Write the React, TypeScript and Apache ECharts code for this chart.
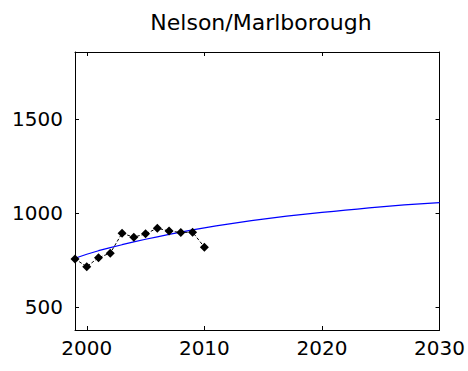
import React, { useEffect, useRef } from "react";
import * as echarts from "echarts";

const obsYears = [1999, 2000, 2001, 2002, 2003, 2004, 2005, 2006, 2007, 2008, 2009, 2010];
const obsValues = [756, 715, 763, 787, 893, 872, 890, 920, 905, 897, 899, 819];

const fitYears = [
  1999, 2000, 2001, 2002, 2003, 2004, 2005, 2006, 2007, 2008, 2009, 2010, 2011, 2012, 2013, 2014,
  2015, 2016, 2017, 2018, 2019, 2020, 2021, 2022, 2023, 2024, 2025, 2026, 2027, 2028, 2029, 2030,
];
const fitValues = [
  760, 781, 800, 816, 832, 847, 861, 874, 887, 899, 911, 922, 932, 942, 951, 960,
  968, 976, 984, 991, 998, 1004, 1010, 1016, 1022, 1028, 1034, 1039, 1044, 1049, 1053, 1057,
];

const xTicks = [2000, 2010, 2020, 2030];
const yTicks = [500, 1000, 1500];
const titleText = "Nelson/Marlborough";

export default function App() {
  const ref = useRef<HTMLDivElement>(null);
  useEffect(() => {
    if (!ref.current) return;
    const chart = echarts.init(ref.current, null, { renderer: "svg" });
    const font = "DejaVu Sans";
    const axisLine = { show: true, lineStyle: { color: "#000", width: 1 } };
    const fmt = (v: number) => String(Math.round(v));
    const xBase = {
      type: "value" as const,
      min: 1999,
      max: 2030,
      splitLine: { show: false },
      axisLine,
      axisTick: { show: true, inside: true, length: 4, customValues: xTicks, lineStyle: { color: "#000" } },
    };
    const yBase = {
      type: "value" as const,
      min: 377,
      max: 1860,
      splitLine: { show: false },
      axisLine,
      axisTick: { show: true, inside: true, length: 4, customValues: yTicks, lineStyle: { color: "#000" } },
    };
    chart.setOption({
      animation: false,
      backgroundColor: "#fff",
      title: {
        text: titleText,
        left: 256,
        textAlign: "center",
        top: 6,
        textStyle: { fontFamily: font, fontSize: 22, fontWeight: "normal", color: "#000" },
      },
      grid: { left: 75, right: 27, top: 52, bottom: 41 },
      xAxis: [
        {
          ...xBase,
          position: "bottom",
          axisLabel: {
            show: true,
            customValues: xTicks,
            formatter: fmt,
            margin: 8,
            color: "#000",
            fontFamily: font,
            fontSize: 20,
            showMinLabel: true,
            showMaxLabel: true,
            hideOverlap: false,
          },
        },
        { ...xBase, position: "top", axisLabel: { show: false } },
      ],
      yAxis: [
        {
          ...yBase,
          position: "left",
          axisLabel: {
            show: true,
            customValues: yTicks,
            formatter: fmt,
            margin: 12,
            color: "#000",
            fontFamily: font,
            fontSize: 20,
          },
        },
        { ...yBase, position: "right", axisLabel: { show: false } },
      ],
      series: [
        {
          type: "line",
          data: fitYears.map((y, i) => [y, fitValues[i]]),
          showSymbol: false,
          symbol: "none",
          lineStyle: { color: "#0000ff", width: 1.2 },
          z: 2,
        },
        {
          type: "line",
          data: obsYears.map((y, i) => [y, obsValues[i]]),
          symbol: "diamond",
          symbolSize: 9,
          itemStyle: { color: "#000" },
          lineStyle: { color: "#000", width: 1, type: [3, 2] },
          z: 3,
        },
      ],
    });
    return () => chart.dispose();
  }, []);
  return <div ref={ref} style={{ width: 468, height: 371, position: "absolute", left: 0, top: 0 }} />;
}
